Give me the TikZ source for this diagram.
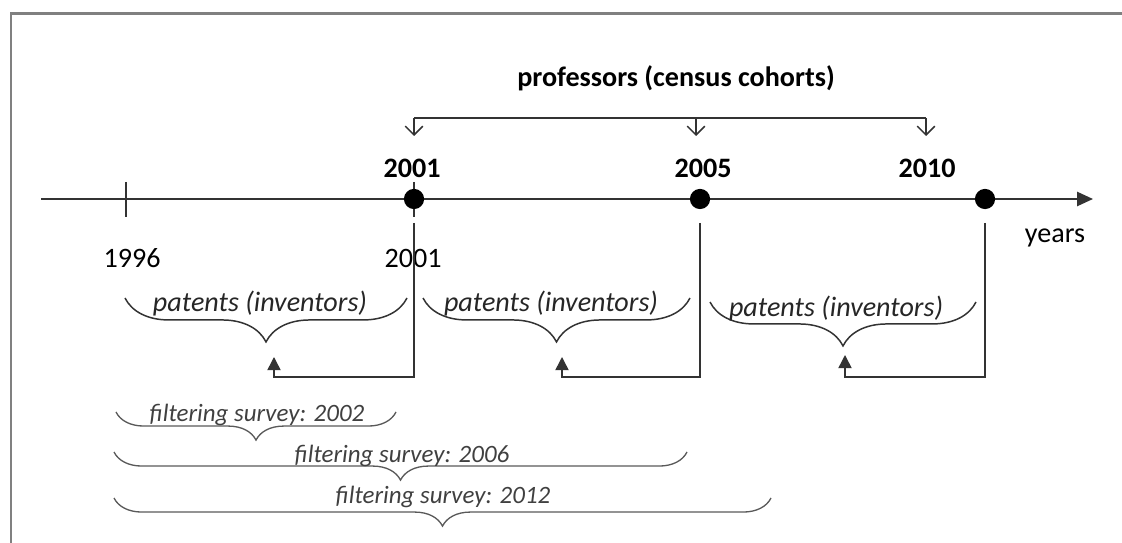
\documentclass[tikz,border=0pt]{standalone}
\usepackage{fontspec}
\setmainfont{Carlito}
\usetikzlibrary{arrows.meta,decorations.pathreplacing,positioning}

\tikzset{
  line/.style={draw=black!80, line width=0.85pt},
  frame/.style={draw=black!50, line width=1.7pt},
  axis/.style={draw=black!80, line width=1.1pt, -{Triangle[length=9pt,width=8pt]}},
  dot/.style={circle, fill=black, inner sep=0pt, minimum size=11.5pt},
  yearbold/.style={font=\fontsize{16}{19}\selectfont\bfseries},
  yearplain/.style={font=\fontsize{16}{19}\selectfont},
  ptext/.style={font=\fontsize{16}{19}\selectfont\itshape, text=black!85},
  stext/.style={font=\fontsize{14.2}{17}\selectfont\itshape, text=black!75},
  pbrace/.style={line, decorate, decoration={brace, mirror, amplitude=25pt}},
  sbrace/.style={draw=black!65, line width=0.75pt, decorate, decoration={brace, mirror, amplitude=16pt}},
  cohort/.style={line, -{Straight Barb[length=5pt,width=10pt]}},
  feedback/.style={line, -{Triangle[length=7.5pt,width=7.5pt]}},
}

\begin{document}
\begin{tikzpicture}[x=0.02cm, y=-0.02cm]
  \useasboundingbox (0,0) rectangle (1122,543);
  \draw[frame] (11,14) rectangle (1140,560);

  % Census cohorts
  \node[yearbold] (title) at (676,78) {professors (census cohorts)};
  \coordinate (c01) at (414,118);
  \coordinate (c05) at (696,118);
  \coordinate (c10) at (926,118);
  \coordinate (a01) at (414,136);
  \coordinate (a05) at (696,136);
  \coordinate (a10) at (926,136);
  \draw[line] (c01) -- (c10);
  \draw[cohort] (c01) -- (a01);
  \draw[cohort] (c05) -- (a05);
  \draw[cohort] (c10) -- (a10);

  \node[yearbold] (y01) at (412,168) {2001};
  \node[yearbold] (y05) at (703,168) {2005};
  \node[yearbold] (y10) at (927,168) {2010};

  % Time axis
  \coordinate (tl) at (41,199);
  \coordinate (tr) at (1093,199);
  \draw[axis] (tl) -- (tr);
  \coordinate (k96t) at (126,182);
  \coordinate (k96b) at (126,217);
  \coordinate (k01t) at (414,182);
  \coordinate (k01b) at (414,217);
  \draw[line] (k96t) -- (k96b);
  \draw[line] (k01t) -- (k01b);
  \node[dot] (d01) at (414,199) {};
  \node[dot] (d05) at (700,199) {};
  \node[dot] (d10) at (985,199) {};

  \node[yearplain] (l96) at (132,258) {1996};
  \node[yearplain] (l01) at (413,258) {2001};
  \node[yearplain] (years) at (1055,238) {years};

  % Patents
  \draw[pbrace] (125,298) -- (407,298);
  \draw[pbrace] (423,298) -- (690,298);
  \draw[pbrace] (710,302) -- (976,302);
  \node[ptext] (p1) at (260,303) {patents (inventors)};
  \node[ptext] (p2) at (551,303) {patents (inventors)};
  \node[ptext] (p3) at (836,308) {patents (inventors)};

  \coordinate (v01) at (414,223);
  \coordinate (v05) at (700,223);
  \coordinate (v10) at (985,223);
  \coordinate (t01) at (274,357);
  \coordinate (t05) at (562,357);
  \coordinate (t10) at (845,355);
  \draw[feedback] (v01) -- ++(0,154) -| (t01);
  \draw[feedback] (v05) -- ++(0,154) -| (t05);
  \draw[feedback] (v10) -- ++(0,154) -| (t10);

  % Filtering surveys
  \draw[sbrace] (116,412) -- (396,412);
  \draw[sbrace] (114,452) -- (687,452);
  \draw[sbrace] (114,498) -- (771,498);
  \node[stext] (s02) at (257,415) {filtering survey: 2002};
  \node[stext] (s06) at (402,456) {filtering survey: 2006};
  \node[stext] (s12) at (443,497) {filtering survey: 2012};
\end{tikzpicture}
\end{document}
